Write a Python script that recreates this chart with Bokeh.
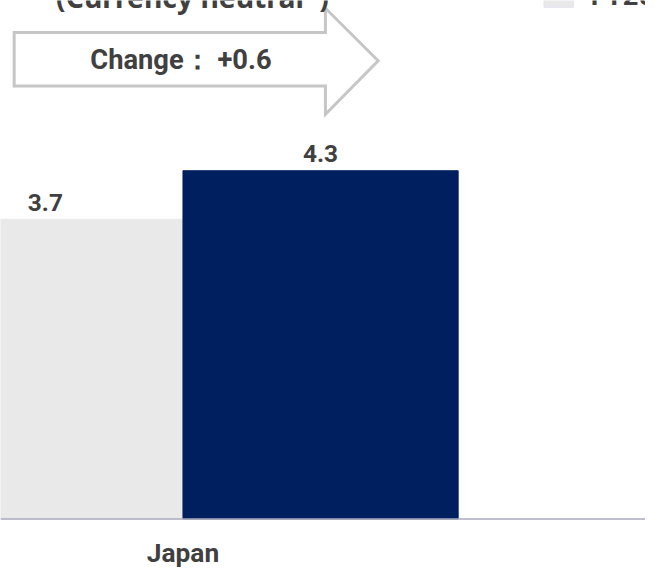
from bokeh.plotting import figure
from bokeh.models import Range1d, ColumnDataSource, Span
from bokeh.core.properties import value
from bokeh.embed import file_html
from bokeh.resources import INLINE

# ---- data ----
categories = ["Japan"]
series = ["FY2023", "FY2024"]
values = [3.7, 4.3]
change_label = "Change： +0.6"
title_text = "(Currency neutral*)"

bar_colors = ["#e9e9e9", "#001f5f"]
text_color = "#404040"

W, H = 645, 569
REF_W, REF_H = 661, 585
SX, SY = W / REF_W, H / REF_H
FS = (SX + SY) / 2

# pixel geometry of the (cropped) view, in reference pixels
PX_PER_X = 282.0 * SX     # one bar width
X0_PX = 46.0 * SX         # x of first bar centre
PX_PER_Y = 83.25 * SY     # px per unit value
Y0_PX = 533.0 * SY        # y of the zero line
TXT_FIX = 10.0 * FS       # empirical baseline correction for text glyphs

x_start = -X0_PX / PX_PER_X
x_end = (W - X0_PX) / PX_PER_X
y_end = Y0_PX / PX_PER_Y
y_start = -(H - Y0_PX) / PX_PER_Y

def dx(rx):
    return (rx * SX - X0_PX) / PX_PER_X

def dy(ry):
    return (Y0_PX - ry * SY) / PX_PER_Y

def ty(ry):
    return (Y0_PX - (ry * SY - TXT_FIX)) / PX_PER_Y

def fs(px):
    return f"{px * FS:.1f}px"

p = figure(width=W, height=H, output_backend="svg", toolbar_location=None,
           x_range=Range1d(x_start, x_end), y_range=Range1d(y_start, y_end),
           min_border=0, min_border_left=0, min_border_right=0,
           min_border_top=0, min_border_bottom=0)
p.axis.visible = False
p.grid.visible = False
p.outline_line_color = None
p.background_fill_color = "white"
p.border_fill_color = "white"

xs = list(range(len(series)))
src = ColumnDataSource(dict(x=xs, top=values, color=bar_colors,
                            label=[f"{v:.1f}" for v in values],
                            ly=[v + (7.5 * SY + TXT_FIX) / PX_PER_Y for v in values]))
p.vbar(x="x", top="top", bottom=0, width=1.0, color="color", source=src)

# zero line
p.add_layout(Span(location=0, dimension="width", line_color="#a9abbe", line_width=1.5))

# value labels
p.text(x="x", y="ly", text="label", source=src, text_align="center",
       text_baseline="alphabetic", text_color=text_color,
       text_font=value("Roboto"), text_font_style="bold", text_font_size=fs(25))

# category label
p.text(x=[0.5], y=[ty(578)], text=categories, text_align="center",
       text_baseline="alphabetic", text_color=text_color,
       text_font=value("Roboto"), text_font_style="bold", text_font_size=fs(27))

# arrow annotation
arrow_px = [(14, 33), (333, 33), (333, 8), (387, 62), (333, 117), (333, 88), (14, 88)]
p.patch([dx(a) for a, b in arrow_px], [dy(b) for a, b in arrow_px],
        fill_color="white", line_color="#c6c6c6", line_width=3, line_join="miter")
p.text(x=[dx(92)], y=[ty(71)], text=[change_label], text_align="left",
       text_baseline="alphabetic", text_color=text_color,
       text_font=value("Roboto"), text_font_style="bold", text_font_size=fs(28))

# title (cropped at top)
p.text(x=[dx(57)], y=[ty(6)], text=[title_text], text_align="left",
       text_baseline="alphabetic", text_color=text_color,
       text_font=value("Noto Sans"), text_font_style="bold", text_font_size=fs(29))

# legend (cropped at top-right)
p.quad(left=[dx(557)], right=[dx(587)], top=[dy(-23)], bottom=[dy(7)],
       fill_color=bar_colors[0], line_color="#e4e2f0", line_width=1)
p.text(x=[dx(605)], y=[ty(5)], text=[series[0]], text_align="left",
       text_baseline="alphabetic", text_color=text_color,
       text_font=value("Roboto"), text_font_style="bold", text_font_size=fs(28))

open("out.html", "w").write(file_html(p, INLINE))
